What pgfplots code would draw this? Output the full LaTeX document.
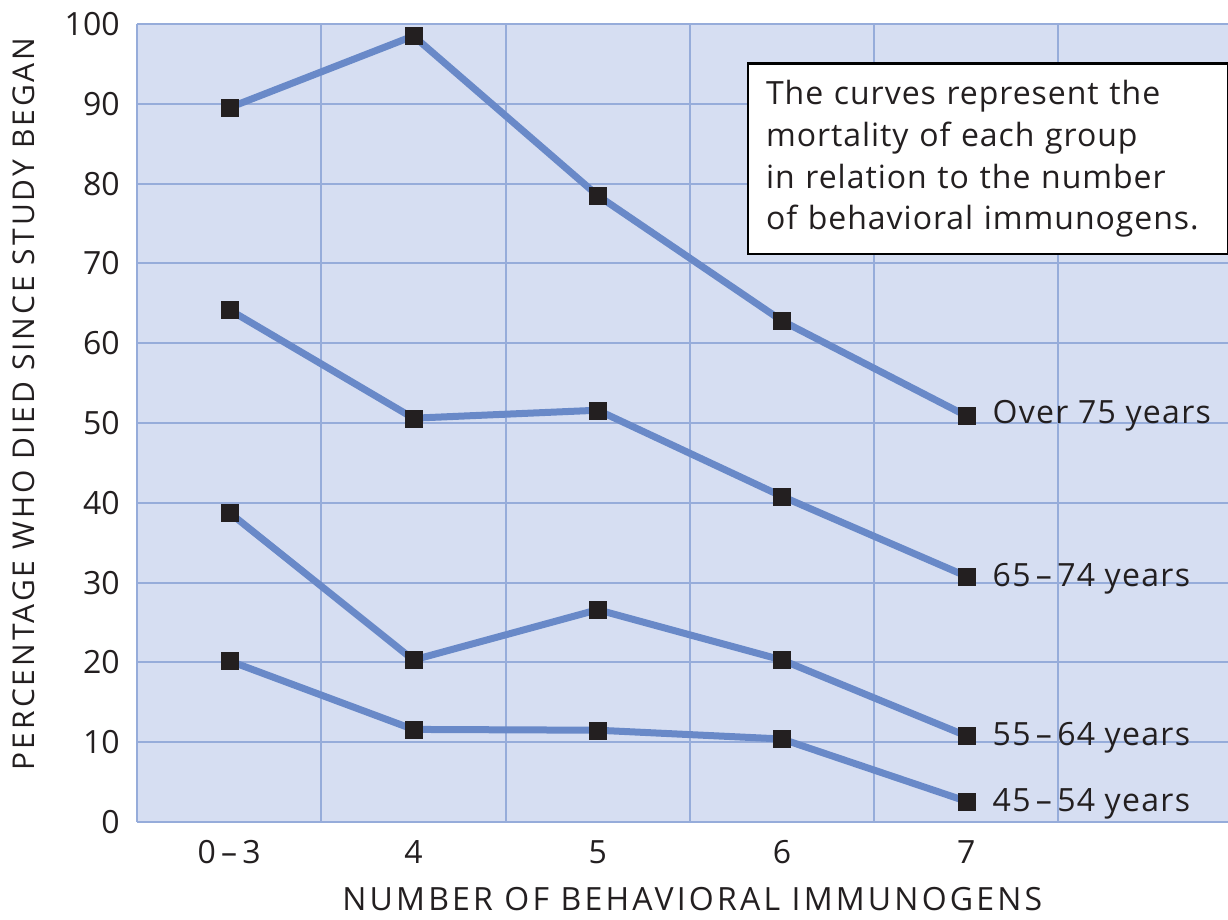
\documentclass[border=0pt]{standalone}
\usepackage{pgfplots}
\pgfplotsset{compat=1.18}
\usepackage{fontspec}
\setmainfont{Open Sans}
\newfontfamily\boxfont[LetterSpace=3]{Open Sans}
\newfontfamily\labfont[LetterSpace=4]{Open Sans}
\newfontfamily\xlabfont[LetterSpace=10]{Open Sans}
\newfontfamily\ylabfont[LetterSpace=10]{Open Sans}
\definecolor{bg}{RGB}{214,222,242}
\definecolor{gridc}{RGB}{150,172,218}
\definecolor{linec}{RGB}{105,137,200}
\definecolor{markc}{RGB}{35,31,32}
\pgfplotsset{curve/.style={draw=linec, line width=3.5pt, mark=square*, mark size=4.25pt,
    mark options={draw=markc, fill=markc, line width=0.1pt}}}

\begin{document}
\begin{tikzpicture}
\useasboundingbox (0,0) rectangle (614pt,460pt);
\begin{axis}[
  at={(68.5pt,49pt)}, anchor=south west,
  scale only axis, width=545.5pt, height=399pt,
  xmin=-0.5, xmax=5.42, ymin=0, ymax=100,
  axis background/.style={fill=bg},
  axis line style={draw=none},
  xtick={0,1,2,3,4}, xticklabels={0\,–\,3,4,5,6,7},
  minor xtick={-0.5,0.5,1.5,2.5,3.5,4.5},
  ytick={0,10,...,100},
  ymajorgrids, xminorgrids,
  major grid style={gridc, line width=1pt},
  minor grid style={gridc, line width=1pt},
  major tick length=0pt, minor tick length=0pt,
  tick label style={font=\fontsize{16}{19}\selectfont, text=markc},
  yticklabel style={anchor=east, inner sep=0pt, xshift=-8.5pt},
  xticklabel style={anchor=north, inner sep=0pt, yshift=-9pt},
  /pgf/number format/assume math mode=true,
  xlabel={NUMBER OF BEHAVIORAL IMMUNOGENS},
  xlabel style={at={(axis description cs:0.509,-0.1103)}, anchor=base, inner sep=0pt, text=markc, font=\xlabfont\fontsize{16}{19}\selectfont},
  ylabel={PERCENTAGE WHO DIED SINCE STUDY BEGAN},
  ylabel style={at={(axis description cs:-0.0935,0.524)}, anchor=base, inner sep=0pt, text=markc, font=\ylabfont\fontsize{15}{18}\selectfont},
  clip=false,
]
\addplot[curve] coordinates {(0,89.5)(1,98.5)(2,78.5)(3,62.8)(4,50.9)};
\addplot[curve] coordinates {(0,64.2)(1,50.6)(2,51.6)(3,40.8)(4,30.8)};
\addplot[curve] coordinates {(0,38.8)(1,20.3)(2,26.6)(3,20.3)(4,10.8)};
\addplot[curve] coordinates {(0,20.2)(1,11.6)(2,11.5)(3,10.4)(4,2.6)};

\node[anchor=base west, inner sep=0pt, xshift=13pt, yshift=-4pt, font=\labfont\fontsize{16}{19}\selectfont, text=markc] at (axis cs:4,50.9) {Over 75 years};
\node[anchor=base west, inner sep=0pt, xshift=13pt, yshift=-5pt, font=\labfont\fontsize{16}{19}\selectfont, text=markc] at (axis cs:4,30.8) {65\,–\,74 years};
\node[anchor=base west, inner sep=0pt, xshift=13pt, yshift=-5pt, font=\labfont\fontsize{16}{19}\selectfont, text=markc] at (axis cs:4,10.8) {55\,–\,64 years};
\node[anchor=base west, inner sep=0pt, xshift=13pt, yshift=-5pt, font=\labfont\fontsize{16}{19}\selectfont, text=markc] at (axis cs:4,2.6) {45\,–\,54 years};

\node[draw=black, line width=1.2pt, fill=white, anchor=north west, inner xsep=9pt, inner ysep=8.5pt, text width=222pt, align=left, text=markc, font=\boxfont\fontsize{16}{20.8}\selectfont] at (rel axis cs:0.559,0.952) {The curves represent the\\ mortality of each group\\ in relation to the number\\ of behavioral immunogens.};
\end{axis}
\end{tikzpicture}
\end{document}
